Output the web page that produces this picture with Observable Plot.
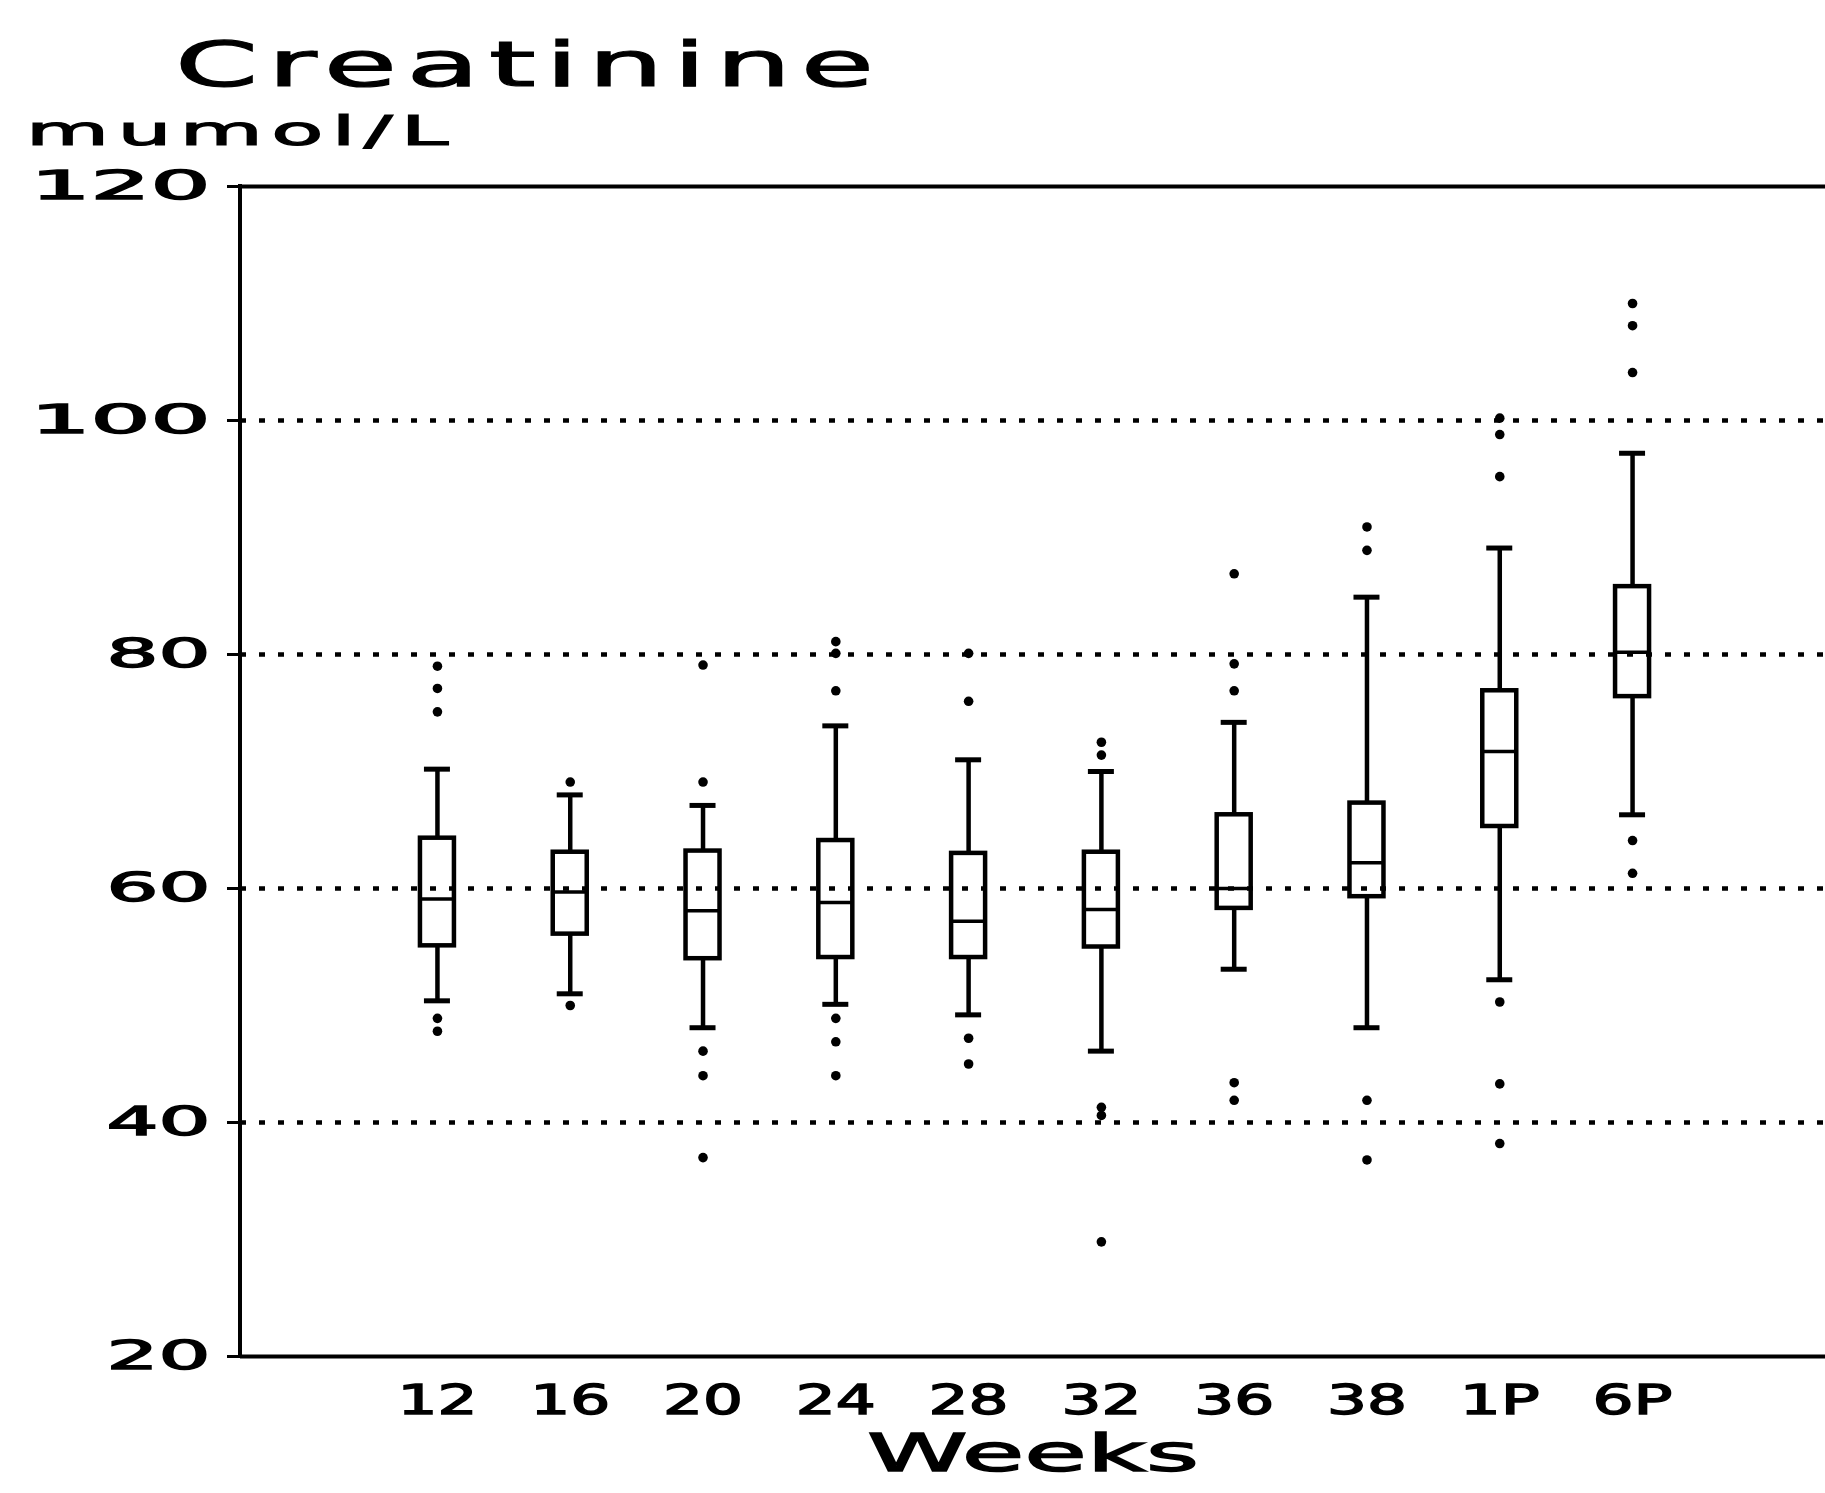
<!DOCTYPE html>
<html>
<head>
<meta charset="utf-8">
<script src="https://cdn.jsdelivr.net/npm/d3@7"></script>
<script src="https://cdn.jsdelivr.net/npm/@observablehq/plot@0.6"></script>
<style>
  html, body { margin: 0; padding: 0; background: #fff; overflow: hidden; }
  #header { position: relative; width: 1825px; height: 160px; }
  .t { position: absolute; white-space: nowrap; font-family: "DejaVu Sans", sans-serif; color: #000; line-height: 1; transform-origin: 0 0; -webkit-text-stroke: 1.2px #000; }
  #title { left: 175px; top: 34px; font-size: 62px; letter-spacing: 5px; transform: scaleX(1.92); }
  #unit { left: 26px; top: 111px; font-size: 41px; letter-spacing: 4px; transform: scaleX(2.08); }
  g[aria-label="x-axis tick label"] { font-size: 40px; }
  g[aria-label="x-axis tick label"] text,
  g[aria-label="y-axis tick label"] text,
  g[aria-label="x-axis label"] text { stroke: #000; stroke-width: 1.4px; }
</style>
</head>
<body>
<div id="header">
  <div class="t" id="title">Creatinine</div>
  <div class="t" id="unit">mumol/L</div>
</div>
<div id="chart"></div>
<script>
// Categories (weeks of pregnancy / postpartum)
const weeks = ["12", "16", "20", "24", "28", "32", "36", "38", "1P", "6P"];

// Box-plot statistics per week (mumol/L)
const whiskerLow  = [50.4, 51.0, 48.1, 50.1, 49.2, 46.1, 53.1, 48.1, 52.2, 66.3];
const q1          = [55.1, 56.1, 54.0, 54.1, 54.1, 55.0, 58.3, 59.3, 65.3, 76.4];
const median      = [59.1, 59.7, 58.1, 58.8, 57.2, 58.2, 60.0, 62.2, 71.7, 80.2];
const q3          = [64.3, 63.1, 63.2, 64.1, 63.0, 63.1, 66.3, 67.3, 76.9, 85.8];
const whiskerHigh = [70.2, 68.0, 67.1, 73.9, 71.0, 70.0, 74.2, 84.9, 89.1, 97.2];

// Outliers
const outlierWeek  = ["12","12","12","12","12",
                      "16","16",
                      "20","20","20","20","20",
                      "24","24","24","24","24","24",
                      "28","28","28","28",
                      "32","32","32","32","32",
                      "36","36","36","36","36",
                      "38","38","38","38",
                      "1P","1P","1P","1P","1P","1P",
                      "6P","6P","6P","6P","6P"];
const outlierValue = [79.0, 77.1, 75.1, 48.9, 47.8,
                      69.1, 50.0,
                      79.1, 69.1, 46.1, 44.0, 37.0,
                      81.1, 80.1, 76.9, 48.9, 46.9, 44.0,
                      80.1, 76.0, 47.2, 45.0,
                      72.5, 71.4, 41.3, 40.6, 29.8,
                      86.9, 79.2, 76.9, 43.4, 41.9,
                      90.9, 88.9, 41.9, 36.8,
                      100.2, 98.8, 95.2, 50.3, 43.3, 38.2,
                      110.0, 108.1, 104.1, 64.1, 61.3];

// Axis ticks
const yTicks = [20, 40, 60, 80, 100, 120];
const gridValues = [40, 60, 80, 100];
const frameValues = [20, 120];

const boxes = weeks.map((w, i) => ({
  week: w, lo: whiskerLow[i], q1: q1[i], med: median[i], q3: q3[i], hi: whiskerHigh[i]
}));
const outliers = outlierWeek.map((w, i) => ({week: w, value: outlierValue[i]}));

const leftLine = (index, scales, values, dims) => {
  const l = document.createElementNS("http://www.w3.org/2000/svg", "line");
  l.setAttribute("x1", dims.marginLeft);
  l.setAttribute("x2", dims.marginLeft);
  l.setAttribute("y1", dims.marginTop - 2);
  l.setAttribute("y2", dims.height - dims.marginBottom + 2);
  l.setAttribute("stroke", "black");
  l.setAttribute("stroke-width", 4);
  return l;
};

const chart = Plot.plot({
  width: 1825,
  height: 1333,
  marginTop: 26,
  marginBottom: 137,
  marginLeft: 240,
  marginRight: 0,
  style: {fontFamily: "DejaVu Sans", background: "white", color: "black"},
  x: {type: "band", domain: weeks, paddingInner: 0.744, paddingOuter: 1.325, insetLeft: 4, round: false, align: 0.5},
  y: {domain: [20, 120]},
  marks: [
    Plot.ruleY(gridValues, {stroke: "black", strokeWidth: 4.5, strokeDasharray: "6 13"}),
    Plot.ruleY(frameValues, {stroke: "black", strokeWidth: 4}),
    leftLine,
    Plot.axisY({ticks: yTicks, tickSize: 13, tickPadding: 17, fontSize: 39, strokeWidth: 3, label: null, tickFormat: d => String(d)}),
    Plot.axisX({tickSize: 0, tickPadding: 29, fontSize: 52, label: "Weeks", labelAnchor: "center", labelOffset: 114}),
    Plot.ruleX(boxes, {x: "week", y1: "lo", y2: "q1", stroke: "black", strokeWidth: 4.5}),
    Plot.ruleX(boxes, {x: "week", y1: "q3", y2: "hi", stroke: "black", strokeWidth: 4.5}),
    Plot.barY(boxes, {x: "week", y1: "q1", y2: "q3", fill: "none", stroke: "black", strokeWidth: 4.5}),
    Plot.tickY(boxes, {x: "week", y: "med", stroke: "black", strokeWidth: 3.5}),
    Plot.tickY(boxes, {x: "week", y: "hi", stroke: "black", strokeWidth: 5, insetLeft: 4, insetRight: 4}),
    Plot.tickY(boxes, {x: "week", y: "lo", stroke: "black", strokeWidth: 5, insetLeft: 4, insetRight: 4}),
    Plot.dot(outliers, {x: "week", y: "value", r: 4.8, fill: "black", stroke: "none"})
  ]
});

// stretch the wide plotter-style lettering
chart.querySelectorAll('g[aria-label="y-axis tick label"] text').forEach(t => {
  const n = t.textContent.length;
  t.setAttribute("textLength", n === 3 ? 180 : 104);
  t.setAttribute("lengthAdjust", "spacingAndGlyphs");
});
chart.querySelectorAll('g[aria-label="x-axis tick label"] text').forEach(t => {
  t.setAttribute("textLength", 80);
  t.setAttribute("lengthAdjust", "spacingAndGlyphs");
});
chart.querySelectorAll('g[aria-label="x-axis label"] text').forEach(t => {
  t.setAttribute("textLength", 332);
  t.setAttribute("lengthAdjust", "spacingAndGlyphs");
});

document.getElementById("chart").appendChild(chart);
</script>
</body>
</html>
